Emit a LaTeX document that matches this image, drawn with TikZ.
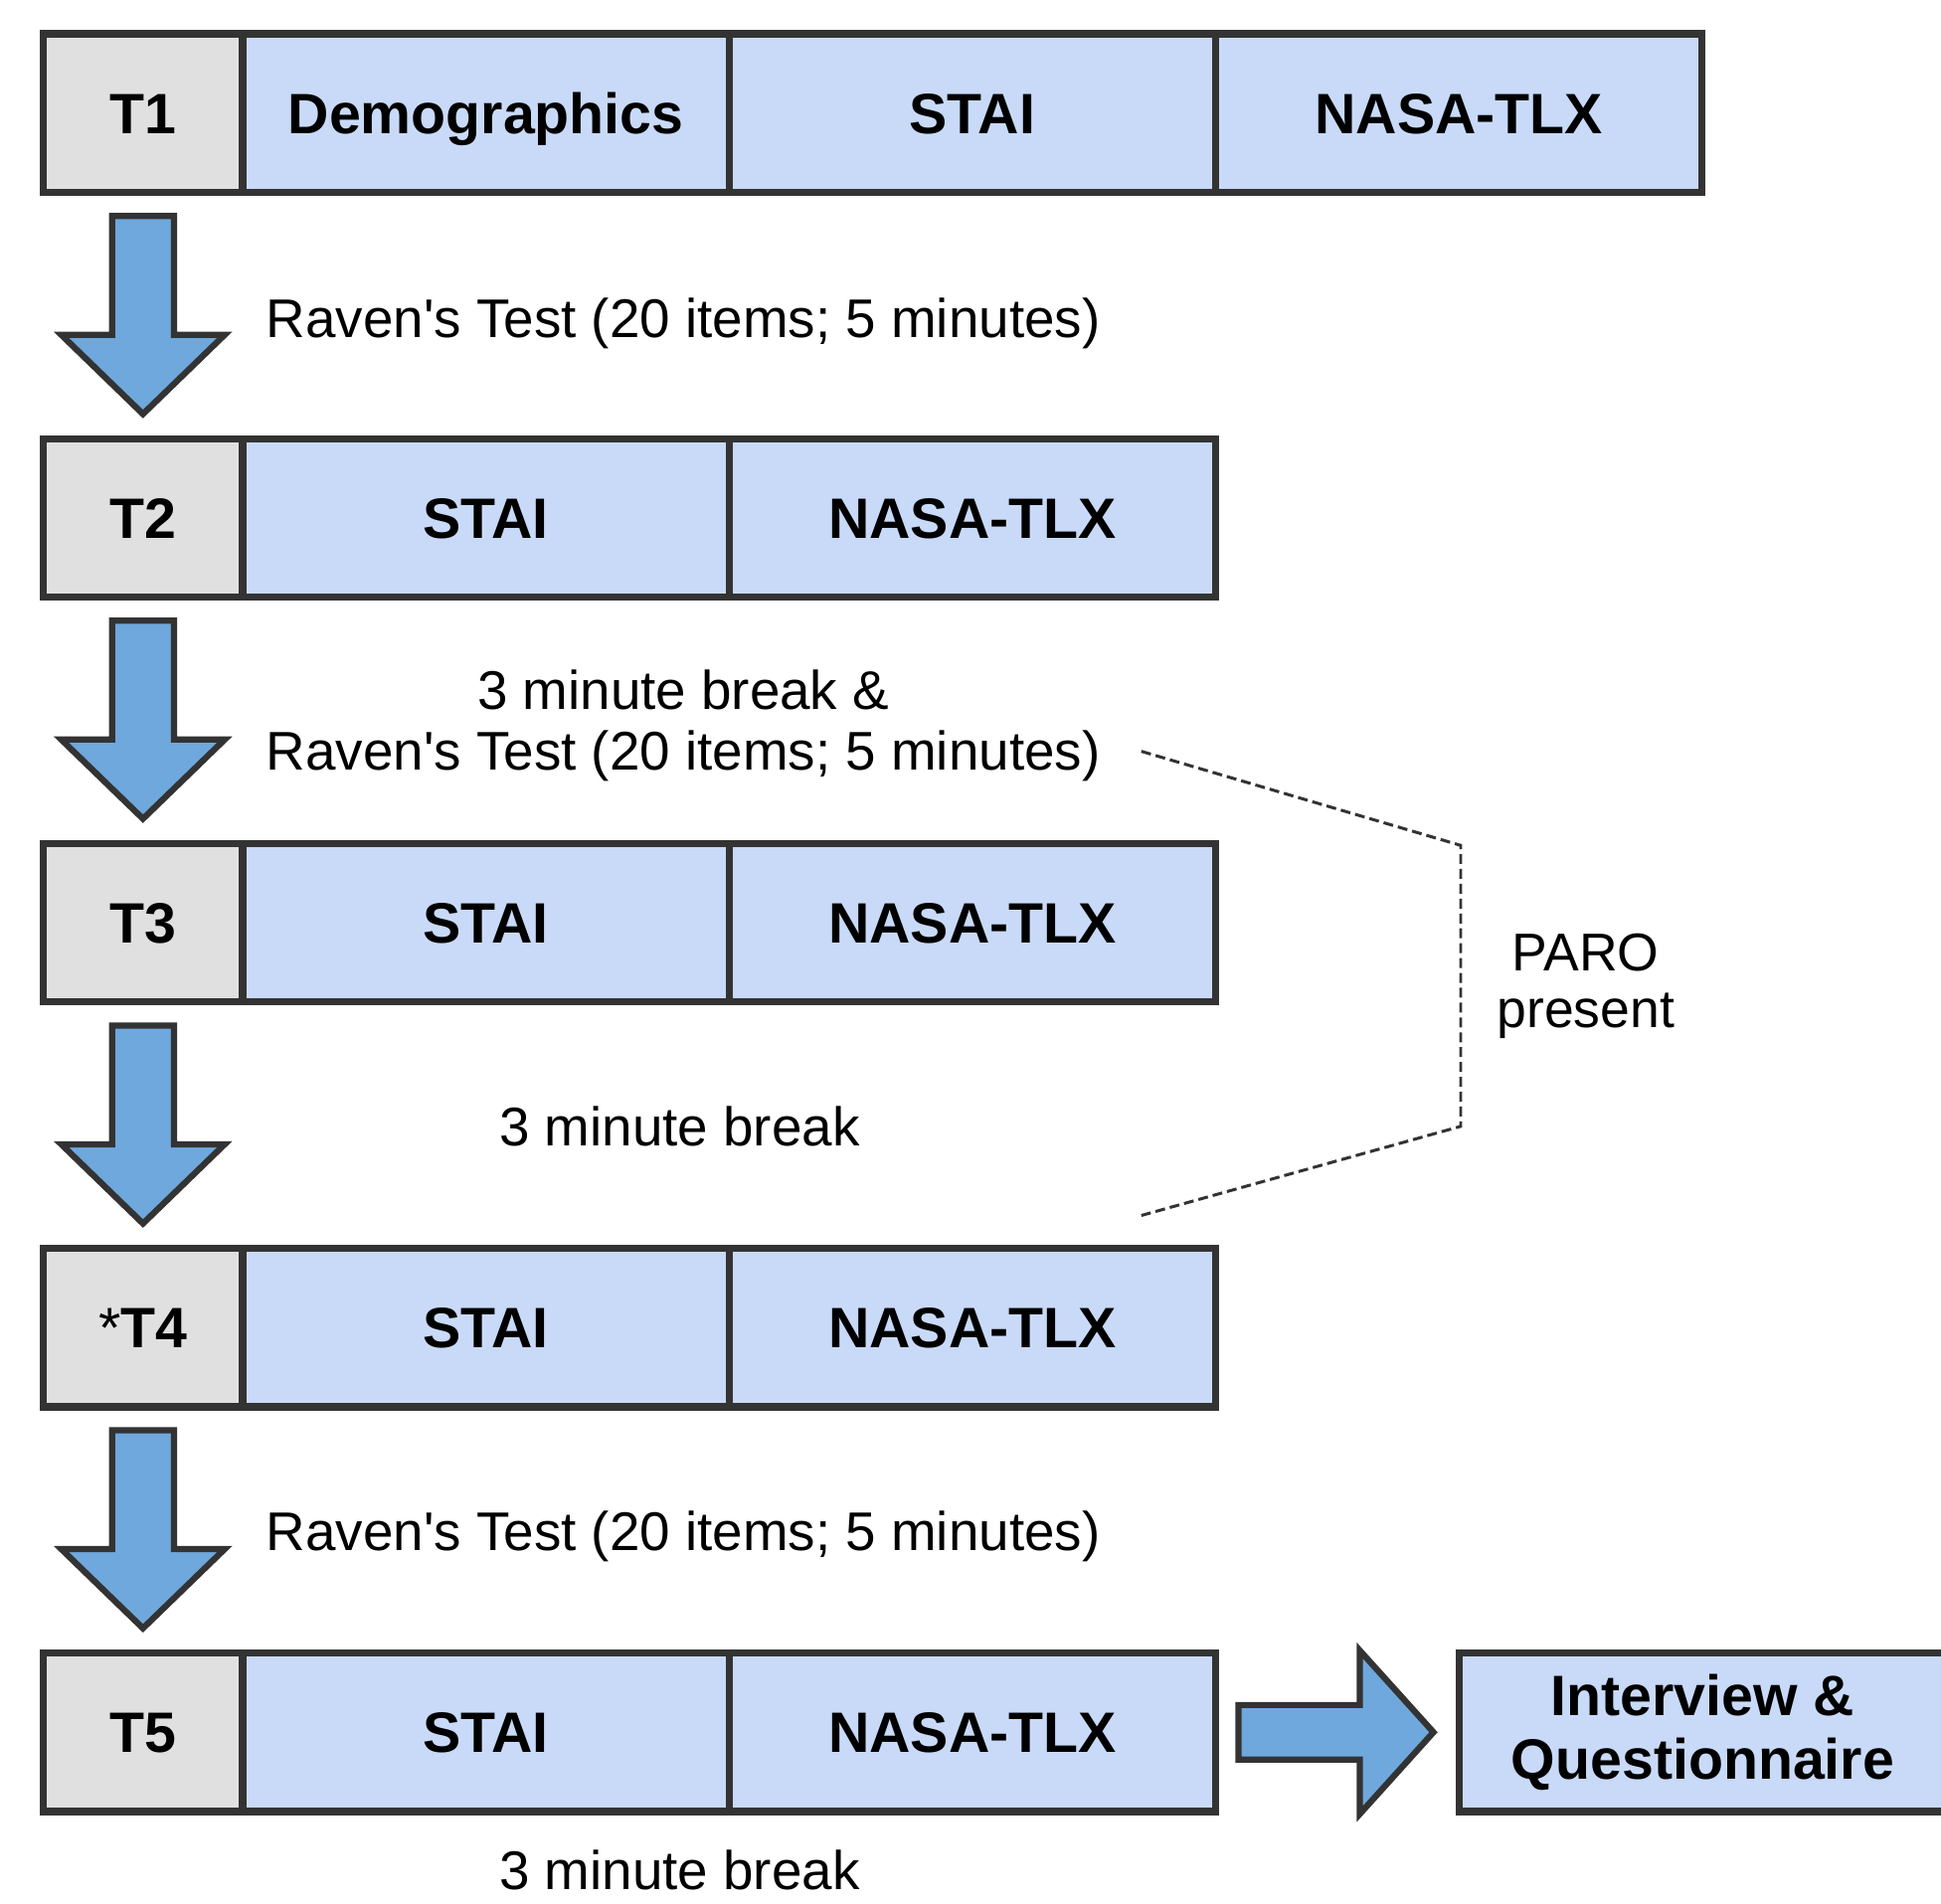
\documentclass[tikz,border=0pt]{standalone}
\usepackage{fontspec}
\setmainfont{Liberation Sans}
\usetikzlibrary{positioning,calc}

\definecolor{boxline}{HTML}{333333}
\definecolor{tgrey}{HTML}{E0E0E0}
\definecolor{qblue}{HTML}{C9DAF8}
\definecolor{arrowblue}{HTML}{6FA8DC}

\newcommand{\raventest}{Raven\textquotesingle s Test (20 items; 5 minutes)}

\tikzset{
  cell/.style={draw=boxline, line width=6pt, minimum height=128pt, inner sep=0pt, outer sep=0pt,
    anchor=west, text height=33pt, text depth=0pt, font=\fontsize{46}{52}\selectfont\bfseries},
  tcell/.style={cell, fill=tgrey, minimum width=161pt},
  qcell/.style={cell, fill=qblue, minimum width=393pt},
  note/.style={font=\fontsize{44}{49}\selectfont, inner sep=0pt, align=center},
  blockarrow/.style={draw=boxline, fill=arrowblue, line width=5pt, line join=miter},
  parobracket/.style={draw=boxline, line width=2.4pt, dash pattern=on 8pt off 4pt}
}

\begin{document}
\begin{tikzpicture}[x=1pt, y=-1pt]
            \useasboundingbox (0,0) rectangle (1568,1538);
            \clip (0,0) rectangle (1568,1538);

            % First row of questionnaires
            \node[tcell] (t1) at (35,91.5) {T1};
            \node[qcell, right=0pt of t1] (d1) {Demographics};
            \node[qcell, right=0pt of d1] (s1) {STAI};
            \node[qcell, right=0pt of s1] (n1) {NASA-TLX};

            % The other rows
            \foreach \i/\lab in {2/T2, 3/T3, 4/{\textmd{*}T4}, 5/T5} {
                \node[tcell] (t\i) at (35,{91.5+327*(\i-1)}) {\lab};
                \node[qcell, right=0pt of t\i] (s\i) {STAI};
                \node[qcell, right=0pt of s\i] (n\i) {NASA-TLX};
            }

            % Down arrows between the rows
            \foreach \i in {1,...,4} {
                \draw[blockarrow] ($(t\i.south)+(-25,19)$) -- ++(50,0) -- ++(0,96) -- ++(41,0)
                    -- ($(t\i.south)+(0,179)$) -- ($(t\i.south)+(-66,115)$) -- ++(41,0) -- cycle;
            }

            % Right arrow to the last box
            \draw[blockarrow] ($(n5.east)+(18.5,-22)$) -- ++(98,0) -- ++(0,-44) -- ($(n5.east)+(176,0)$)
                -- ($(n5.east)+(116.5,66)$) -- ++(0,-44) -- ++(-98,0) -- cycle;
            \node[qcell, right=197pt of n5, text height=, text depth=, align=center] (iq) {Interview \&\\Questionnaire};

            % Notes between the rows
            \node[note, anchor=base] (r1) at (552,273) {\raventest};
            \node[note] (r2) at (552,586) {3 minute break \&\\\raventest};
            \node[note, anchor=base] (b3) at (549,926) {3 minute break};
            \node[note, anchor=base] (r4) at (552,1253) {\raventest};
            \node[note, anchor=base] (b5) at (549,1527) {3 minute break};

            % PARO bracket
            \coordinate (p1) at (922,607);
            \coordinate (p2) at (1180,683);
            \coordinate (p3) at (1180,910);
            \coordinate (p4) at (922,982);
            \draw[parobracket] (p1) -- (p2) -- (p3) -- (p4);
            \node[note, font=\fontsize{43}{46}\selectfont] (paro) at (1281,797) {PARO\\present};
\end{tikzpicture}
\end{document}
